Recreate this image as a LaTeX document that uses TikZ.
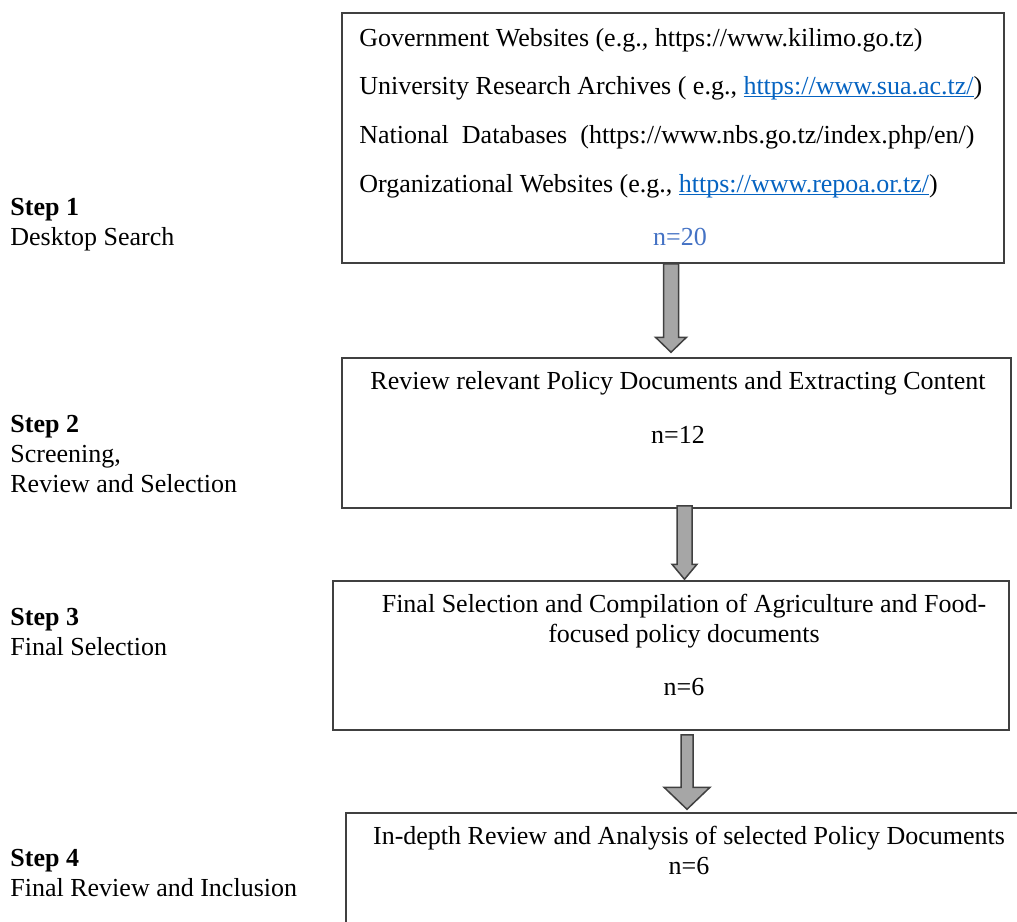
\documentclass[tikz,border=0pt]{standalone}
\usepackage{fontspec}
\setmainfont{Liberation Serif}
\usepackage{xcolor}
\usepackage{tikz}
\usetikzlibrary{calc, positioning}

\definecolor{linkblue}{HTML}{0563C1}
\definecolor{countblue}{HTML}{4472C4}
\definecolor{arrowgray}{HTML}{A6A6A6}
\definecolor{framegray}{HTML}{404040}

\newsavebox{\linkbox}
\newcommand{\weblink}[1]{{\color{linkblue}\sbox{\linkbox}{#1}\rlap{\rule[-1.6pt]{\wd\linkbox}{0.6pt}}\usebox{\linkbox}}}

% block arrow: start, tip, half shaft, half head, head length
\newcommand{\fatarrow}[5]{%
  \draw[blockarrow] ($(#1)+(-#3,0)$) -- ($(#2)+(-#3,-#5)$) -- ($(#2)+(-#4,-#5)$) -- (#2)
    -- ($(#2)+(#4,-#5)$) -- ($(#2)+(#3,-#5)$) -- ($(#1)+(#3,0)$) -- cycle;}

\begin{document}
\begin{tikzpicture}[
    x=0.5pt, y=-0.5pt,
    every node/.style={font=\fontsize{13}{15}\selectfont, inner sep=0pt},
    stagebox/.style={draw=framegray, line width=0.75pt},
    blockarrow/.style={draw=framegray, fill=arrowgray, line width=0.75pt, line join=miter},
    steplabel/.style={anchor=west, align=left}
]
\useasboundingbox (0,0) rectangle (1017,921);

% 四个阶段的框
\node[stagebox, minimum width=331pt, minimum height=125pt] (b1) at (673,138) {};
\node[stagebox, minimum width=334.5pt, minimum height=75pt] (b2) at (676.5,433) {};
\node[stagebox, minimum width=338pt, minimum height=74.5pt] (b3) at (671,655.5) {};
\node[stagebox, minimum width=342pt, minimum height=63.5pt] (b4) at (688,876.5) {};

% 框内文字
\node[anchor=west] (src1) at (359,40) {Government Websites (e.g., https://www.kilimo.go.tz)};
\node[anchor=west] (src2) at (359,88) {University Research Archives ( e.g., \weblink{https://www.sua.ac.tz/})};
\node[anchor=west] (src3) at (359,137) {National\ \ Databases\ \ (https://www.nbs.go.tz/index.php/en/)};
\node[anchor=west] (src4) at (359,186) {Organizational Websites (e.g., \weblink{https://www.repoa.or.tz/})};
\node[text=countblue] (n1) at (680,237) {n=20};

\node (rev) at (678,383) {Review relevant Policy Documents and Extracting Content};
\node (n2) at (678,435) {n=12};

\node[align=center] (sel) at (684,621.5) {Final Selection and Compilation of Agriculture and Food-\\focused policy documents};
\node (n3) at (684,687) {n=6};

\node (ana) at (689,838) {In-depth Review and Analysis of selected Policy Documents};
\node (n4) at (689,866) {n=6};

% 左侧步骤说明
\node[steplabel] (l1) at (10,225) {\textbf{Step 1}\\Desktop Search};
\node[steplabel] (l2) at (10,454) {\textbf{Step 2}\\Screening,\\Review and Selection};
\node[steplabel] (l3) at (10,632) {\textbf{Step 3}\\Final Selection};
\node[steplabel] (l4) at (10,873) {\textbf{Step 4}\\Final Review and Inclusion};

% 箭头
\coordinate (s1) at ($(b1.south)+(-2,0)$);
\coordinate (e1) at ($(s1 |- b2.north)+(0,-5)$);
\coordinate (s2) at ($(b2.south)+(8,-3)$);
\coordinate (e2) at ($(s2 |- b3.north)+(0,-1)$);
\coordinate (s3) at ($(b3.south)+(16,4)$);
\coordinate (e3) at ($(s3 |- b4.north)+(0,-3)$);

\fatarrow{s1}{e1}{7.5}{15.5}{15}
\fatarrow{s2}{e2}{7.5}{12.5}{15}
\fatarrow{s3}{e3}{6}{23}{22}

\end{tikzpicture}
\end{document}
